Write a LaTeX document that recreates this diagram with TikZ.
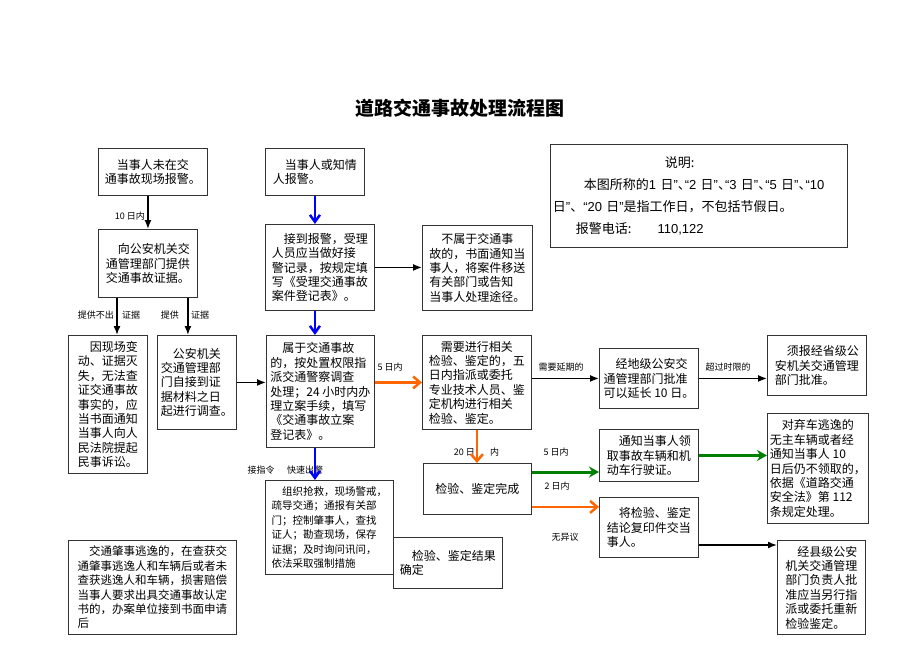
\documentclass[tikz,border=0pt]{standalone}
\usepackage{fontspec}
\setmainfont{Noto Sans CJK SC}
\newfontfamily\latn{Liberation Sans}
\usetikzlibrary{arrows.meta}

\definecolor{chengse}{RGB}{255,102,0}
\definecolor{lvse}{RGB}{0,128,0}

\begin{document}
\begin{tikzpicture}
[x=1pt,y=-1pt,
box/.style={draw=black!80,line width=0.9pt,anchor=north west,align=left,inner sep=2.5pt,
  font=\fontsize{12}{14.4}\selectfont},
lbl/.style={inner sep=1pt,font=\fontsize{9}{10}\selectfont},
arr/.style={line width=1.5pt,-{Latex[length=9pt,width=7pt]}},
blau/.style={blue,line width=2.5pt,-{Straight Barb[length=7pt,width=10pt]}},
orng/.style={chengse,line width=2.5pt,-{Straight Barb[length=7pt,width=12pt]}},
gruen/.style={lvse,line width=3pt,-{Stealth[length=10pt,width=11pt]}},
]
\useasboundingbox (0,0) rectangle (920,651);

\node[font=\fontsize{19}{22}\bfseries] (titel) at (460,108) {道路交通事故处理流程图};

\node[box,minimum width=297,minimum height=103,text width=292,font=\fontsize{13}{22}\selectfont]
  (shuoming) at (550,144)
  {\mbox{\hspace*{112pt}说明:}\\
   \mbox{\hspace*{31pt}本图所称的{\latn 1 }日{\latn ”}、\kern-6pt{\latn “2 }日{\latn ”}、\kern-6pt{\latn “3 }日{\latn ”}、\kern-6pt{\latn “5 }日{\latn ”}、\kern-6pt{\latn “10}}\\
   \mbox{日{\latn ”}、{\latn “20 }日{\latn ”}是指工作日，不包括节假日。}\\
   \mbox{\hspace*{23pt}报警电话:\hspace{2em}{\latn 110,122}}};

\node[box,minimum width=109,minimum height=47] (weibao) at (98,148)
  {　当事人未在交\\通事故现场报警。};
\node[box,minimum width=99,minimum height=68] (zhengju) at (98,229)
  {　向公安机关交\\通管理部门提供\\交通事故证据。};
\node[box,minimum width=79,minimum height=138] (minshi) at (68,335)
  {　因现场变\\动、证据灭\\失，无法查\\证交通事故\\事实的，应\\当书面通知\\当事人向人\\民法院提起\\民事诉讼。};
\node[box,minimum width=79,minimum height=94] (diaocha) at (157,335)
  {　公安机关\\交通管理部\\门自接到证\\据材料之日\\起进行调查。};

\node[box,minimum width=99,minimum height=47] (baojing) at (265,148)
  {　当事人或知情\\人报警。};
\node[box,minimum width=109,minimum height=86] (shouli) at (265,224)
  {　接到报警，受理\\人员应当做好接\\警记录，按规定填\\写《受理交通事故\\案件登记表》。};
\node[box,minimum width=110,minimum height=85] (yisong) at (422,225)
  {　不属于交通事\\故的，书面通知当\\事人，将案件移送\\有关部门或告知\\当事人处理途径。};
\node[box,minimum width=108,minimum height=112] (lian) at (266,335)
  {　属于交通事故\\的，按处置权限指\\派交通警察调查\\处理；24 小时内办\\理立案手续，填写\\《交通事故立案\\登记表》。};
\node[box,minimum width=109,minimum height=94] (jianding) at (422,335)
  {　需要进行相关\\检验、鉴定的，五\\日内指派或委托\\专业技术人员、鉴\\定机构进行相关\\检验、鉴定。};
\node[box,minimum width=99,minimum height=60] (yanchang) at (599,348)
  {　经地级公安交\\通管理部门批准\\可以延长 10 日。};
\node[box,minimum width=99,minimum height=60] (shengji) at (767,335)
  {　须报经省级公\\安机关交通管理\\部门批准。};
\node[box,minimum width=99,minimum height=110] (qiche) at (767,413)
  {　对弃车逃逸的\\无主车辆或者经\\通知当事人 10\\日后仍不领取的，\\依据《道路交通\\安全法》第 112\\条规定处理。};
\node[box,align=center,minimum width=108,minimum height=51] (wancheng) at (423,463)
  {检验、鉴定完成};
\node[box,minimum width=99,minimum height=52] (lingqu) at (599,429)
  {　通知当事人领\\取事故车辆和机\\动车行驶证。};
\node[box,minimum width=99,minimum height=60] (fuyin) at (599,497)
  {　将检验、鉴定\\结论复印件交当\\事人。};
\node[box,minimum width=88,minimum height=94] (xianji) at (777,540)
  {　经县级公安\\机关交通管理\\部门负责人批\\准应当另行指\\派或委托重新\\检验鉴定。};
\node[box,minimum width=128,minimum height=94,font=\fontsize{10.5}{14.4}\selectfont] (chujing) at (265,480)
  {　组织抢救，现场警戒，\\疏导交通；通报有关部\\门；控制肇事人，查找\\证人；勘查现场，保存\\证据；及时询问讯问，\\依法采取强制措施};
\node[box,minimum width=109,minimum height=51] (jieguo) at (393,537)
  {　检验、鉴定结果\\确定};
\node[box,minimum width=168,minimum height=94,font=\fontsize{11.5}{14.4}\selectfont] (taoyi) at (68,540)
  {　交通肇事逃逸的，在查获交\\通肇事逃逸人和车辆后或者未\\查获逃逸人和车辆，损害赔偿\\当事人要求出具交通事故认定\\书的，办案单位接到书面申请\\后};

\node[lbl,anchor=east] (l10) at (146,216) {10 日内};
\node[lbl,anchor=east] (lbuchu) at (115,315) {提供不出};
\node[lbl,anchor=west] (lzj1) at (121,315) {证据};
\node[lbl,anchor=east] (ltg) at (180,315) {提供};
\node[lbl,anchor=west] (lzj2) at (190,315) {证据};
\node[lbl] (l5a) at (390,367) {5 日内};
\node[lbl] (lyanqi) at (561,367) {需要延期的};
\node[lbl] (lchaoguo) at (728,367) {超过时限的};
\node[lbl,anchor=east] (l20) at (476,452) {20 日};
\node[lbl,anchor=west] (lnei) at (489,452) {内};
\node[lbl] (l5b) at (556,452) {5 日内};
\node[lbl] (l2) at (557,486) {2 日内};
\node[lbl] (lwuyi) at (565,537) {无异议};
\node[lbl] (ljie) at (261,470) {接指令};
\node[lbl] (lkuai) at (305,470) {快速出警};

\draw[arr] (weibao.south -| zhengju.north) -- (zhengju.north);
\draw[arr] ([xshift=19]zhengju.south west) -- ([xshift=19]zhengju.south west |- minshi.north);
\draw[arr] ([xshift=-10]zhengju.south east) -- ([xshift=-10]zhengju.south east |- diaocha.north);
\draw[arr] (diaocha.east) -- (diaocha.east -| lian.west);

\draw[blau] (baojing.south) -- (baojing.south |- shouli.north);
\draw[blau] (baojing.south |- shouli.south) -- (baojing.south |- lian.north);
\draw[blau] (baojing.south |- lian.south) -- (baojing.south |- chujing.north);
\draw[arr] (shouli.east) -- (shouli.east -| yisong.west);

\draw[orng] (jianding.west -| lian.east) -- (jianding.west);
\draw[arr] (yanchang.west -| jianding.east) -- (yanchang.west);
\draw[arr] (yanchang.east) -- (yanchang.east -| shengji.west);
\draw[orng] (jianding.south) -- (jianding.south |- wancheng.north);
\draw[gruen] ([yshift=-9]wancheng.north east) -- ([yshift=-9]wancheng.north east -| lingqu.west);
\draw[orng] ([yshift=8]wancheng.south east) -- ([yshift=8]wancheng.south east -| fuyin.west);
\draw[gruen] (lingqu.east) -- (lingqu.east -| qiche.west);
\draw[arr] ([yshift=-48]fuyin.north east) -- ([yshift=-48]fuyin.north east -| xianji.west);
\end{tikzpicture}
\end{document}
